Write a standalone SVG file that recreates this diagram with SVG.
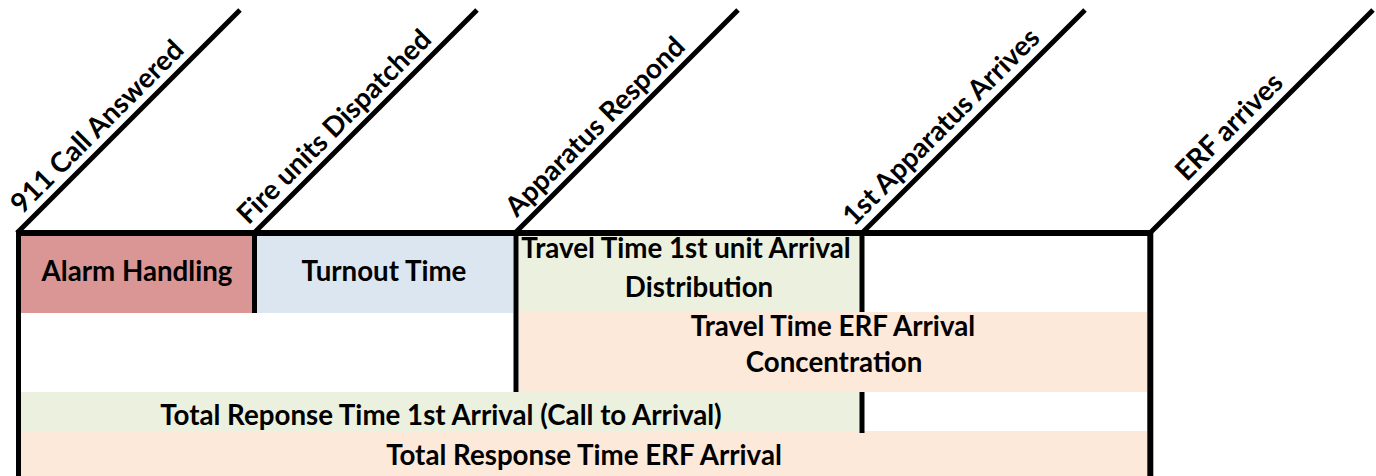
<svg xmlns="http://www.w3.org/2000/svg" width="1376" height="476" viewBox="0 0 1376 476">
  <style>
    text { font-family: Lato, "Open Sans", "Liberation Sans", sans-serif; font-weight: bold; font-size: 27.7px; fill: #000; }
    .mid { text-anchor: middle; }
    .ln { stroke: #000; stroke-width: 5; fill: none; stroke-linecap: butt; }
    .top { stroke: #000; stroke-width: 6; fill: none; }
    .red { fill: #DA9694; }
    .blue { fill: #DCE6F1; }
    .green { fill: #EBF1DE; }
    .peach { fill: #FDE9D9; }
  </style>
  <rect width="1376" height="476" fill="#fff"/>

  <g id="alarm-handling">
    <rect class="red" x="21" y="236" width="231" height="77"/>
    <text class="mid" x="137" y="281">Alarm Handling</text>
  </g>
  <g id="turnout-time">
    <rect class="blue" x="257" y="236" width="256" height="77"/>
    <text class="mid" x="384" y="281">Turnout Time</text>
  </g>
  <g id="travel-first">
    <rect class="green" x="519" y="236" width="341" height="76"/>
    <text class="mid" x="686" y="258">Travel Time 1st unit Arrival</text>
    <text class="mid" x="699" y="297">Distribution</text>
  </g>
  <g id="travel-erf">
    <rect class="peach" x="519" y="312" width="628" height="80"/>
    <text class="mid" x="833" y="336">Travel Time ERF Arrival</text>
    <text class="mid" x="834" y="372">Concentration</text>
  </g>
  <g id="total-first">
    <rect class="green" x="21" y="392" width="839" height="39"/>
    <text class="mid" x="441" y="425">Total Reponse Time 1st Arrival (Call to Arrival)</text>
  </g>
  <g id="total-erf">
    <rect class="peach" x="21" y="431" width="1126" height="45"/>
    <text class="mid" x="584" y="465">Total Response Time ERF Arrival</text>
  </g>

  <g id="connectors">
    <line class="top" x1="16" y1="233" x2="1153" y2="233"/>
    <line class="ln" x1="18.5" y1="231" x2="18.5" y2="476"/>
    <line class="ln" x1="254.5" y1="233" x2="254.5" y2="313"/>
    <line class="ln" x1="516" y1="233" x2="516" y2="392"/>
    <line class="ln" x1="862" y1="233" x2="862" y2="312"/>
    <line class="ln" x1="862" y1="392" x2="862" y2="433"/>
    <line class="top" x1="1150.3" y1="233" x2="1150.3" y2="476"/>
    <line class="ln" x1="17" y1="233" x2="240" y2="10"/>
    <line class="ln" x1="254" y1="233" x2="477" y2="10"/>
    <line class="ln" x1="515" y1="233" x2="738" y2="10"/>
    <line class="ln" x1="862" y1="233" x2="1085" y2="10"/>
    <line class="ln" x1="1150" y1="233" x2="1373" y2="10"/>
  </g>

  <g id="event-911">
    <text class="mid" transform="translate(103.6 133.3) rotate(-45)">911 Call Answered</text>
  </g>
  <g id="event-dispatched">
    <text class="mid" transform="translate(340.6 133.3) rotate(-45)">Fire units Dispatched</text>
  </g>
  <g id="event-respond">
    <text class="mid" transform="translate(601.6 133.3) rotate(-45)">Apparatus Respond</text>
  </g>
  <g id="event-first-arrives">
    <text class="mid" transform="translate(947.6 133.3) rotate(-45)">1st Apparatus Arrives</text>
  </g>
  <g id="event-erf-arrives">
    <text class="mid" transform="translate(1235.6 133.3) rotate(-45)">ERF arrives</text>
  </g>
</svg>
